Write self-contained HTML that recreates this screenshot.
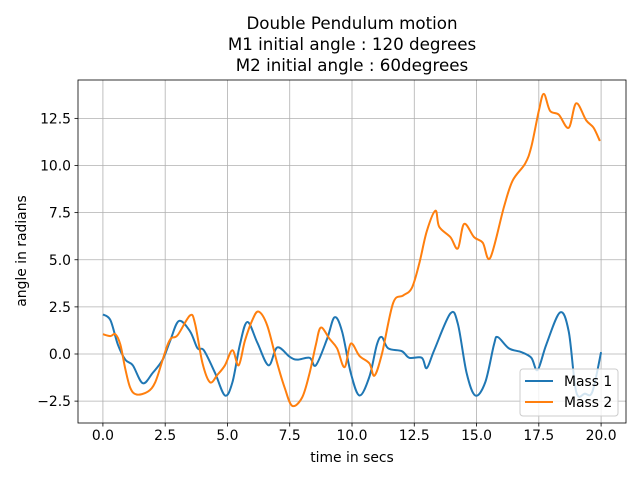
<!DOCTYPE html>
<html><head><meta charset="utf-8"><style>
body{margin:0;background:#fff;font-family:"Liberation Sans","DejaVu Sans",sans-serif;}
svg text{font-family:"DejaVu Sans","Liberation Sans",sans-serif;}
</style></head><body>
<svg id="c" width="640" height="480" xmlns="http://www.w3.org/2000/svg"></svg>
<script>
const xTicks=[0,2.5,5,7.5,10,12.5,15,17.5,20];
const xTickLabels=["0.0","2.5","5.0","7.5","10.0","12.5","15.0","17.5","20.0"];
const yTicks=[-2.5,0,2.5,5,7.5,10,12.5];
const yTickLabels=["−2.5","0.0","2.5","5.0","7.5","10.0","12.5"];
const m1t=[0,0.3,0.6,0.9,1.2,1.6,2.0,2.4,2.7,3.05,3.5,3.8,4.05,4.5,4.9,5.2,5.5,5.8,6.2,6.65,7.0,7.5,7.8,8.3,8.55,9.0,9.3,9.6,9.95,10.3,10.7,11.0,11.2,11.45,12.0,12.3,12.8,13.0,13.3,13.95,14.25,14.6,14.95,15.35,15.7,15.85,16.3,16.8,17.2,17.45,17.8,18.35,18.7,19.0,19.35,19.65,20.0];
const m1v=[2.1,1.8,0.5,-0.3,-0.6,-1.55,-1.0,-0.3,0.7,1.75,1.2,0.3,0.2,-1.0,-2.2,-1.5,0.5,1.7,0.6,-0.6,0.35,-0.15,-0.3,-0.2,-0.6,0.8,1.95,1.2,-1.0,-2.2,-1.2,0.5,0.9,0.3,0.15,-0.2,-0.2,-0.75,0.2,2.15,1.6,-1.0,-2.2,-1.5,0.5,0.9,0.3,0.1,-0.2,-0.85,0.5,2.2,1.2,-2.0,-2.1,-2.0,0.1];
const m2t=[0,0.3,0.5,0.7,0.9,1.1,1.35,1.8,2.1,2.4,2.6,2.75,3.0,3.5,3.7,4.0,4.3,4.6,4.9,5.2,5.45,5.7,6.0,6.25,6.6,7.0,7.3,7.6,8.0,8.3,8.55,8.75,9.1,9.4,9.7,9.95,10.3,10.7,10.9,11.2,11.65,12.05,12.4,12.7,13.0,13.35,13.5,13.95,14.25,14.5,14.9,15.25,15.55,16.1,16.45,16.95,17.2,17.5,17.7,17.95,18.3,18.7,19.0,19.4,19.7,19.95];
const m2v=[1.05,0.95,1.05,0.5,-0.8,-1.8,-2.15,-2.0,-1.5,-0.3,0.5,0.85,1.0,2.05,1.6,-0.5,-1.5,-1.1,-0.6,0.2,-0.6,0.7,1.8,2.25,1.5,-0.5,-1.8,-2.75,-2.3,-1.0,0.5,1.4,0.8,0.3,-0.7,0.55,-0.1,-0.5,-1.15,0.0,2.7,3.1,3.5,4.8,6.5,7.6,6.75,6.2,5.6,6.9,6.2,5.9,5.1,7.8,9.2,10.1,11.0,12.9,13.8,12.9,12.7,12.0,13.3,12.4,12.0,11.3];
const NS="http://www.w3.org/2000/svg";
const svg=document.getElementById('c');
const L=78,R=626,T=80,B=423;
const X=t=>L+(t+1)/22*(R-L);
const Y=v=>354-v*18.85;
function el(tag,a,p){const e=document.createElementNS(NS,tag);for(const k in a)e.setAttribute(k,a[k]);(p||svg).appendChild(e);return e;}
function txt(s,a){const e=el('text',a);e.textContent=s;return e;}
// grid
xTicks.forEach((t,i)=>{
 const g=el('line',{x1:X(t),x2:X(t),y1:T,y2:B,stroke:'#b0b0b0','stroke-width':0.8});
 
 
 el('line',{x1:X(t),x2:X(t),y1:B,y2:B+3.5,stroke:'#000','stroke-width':0.8});
 const l=txt(xTickLabels[i],{x:X(t),y:B+17,'text-anchor':'middle','font-size':'13.9px'});
 
 
});
yTicks.forEach((v,i)=>{
 const g=el('line',{x1:L,x2:R,y1:Y(v),y2:Y(v),stroke:'#b0b0b0','stroke-width':0.8});
 
 
 el('line',{x1:L-3.5,x2:L,y1:Y(v),y2:Y(v),stroke:'#000','stroke-width':0.8});
 const l=txt(yTickLabels[i],{x:L-7,y:Y(v)+5,'text-anchor':'end','font-size':'13.9px'});
 
 
});
function pathFor(ts,vs){
 const p=ts.map((t,i)=>[X(t),Y(vs[i])]);
 let d='M'+p[0][0]+','+p[0][1];
 for(let i=0;i<p.length-1;i++){
  const p0=p[Math.max(0,i-1)],p1=p[i],p2=p[i+1],p3=p[Math.min(p.length-1,i+2)];
  const c1=[p1[0]+(p2[0]-p0[0])/6,p1[1]+(p2[1]-p0[1])/6];
  const c2=[p2[0]-(p3[0]-p1[0])/6,p2[1]-(p3[1]-p1[1])/6];
  d+=`C${c1[0]},${c1[1]} ${c2[0]},${c2[1]} ${p2[0]},${p2[1]}`;
 }
 return d;
}
const s1=el('path',{d:pathFor(m1t,m1v),fill:'none',stroke:'#1f77b4','stroke-width':2,'stroke-linejoin':'round'});


const s2=el('path',{d:pathFor(m2t,m2v),fill:'none',stroke:'#ff7f0e','stroke-width':2,'stroke-linejoin':'round'});


const fr=el('rect',{x:L,y:T,width:R-L,height:B-T,fill:'none',stroke:'#000','stroke-width':0.8});


// titles
["Double Pendulum motion","M1 initial angle : 120 degrees"," M2 initial angle : 60degrees"].forEach((s,i)=>{
 const t=txt(s,{x:352,y:29+i*21,'text-anchor':'middle','font-size':'16.7px'});
 
 
});
const xl=txt('time in secs',{x:352,y:462,'text-anchor':'middle','font-size':'13.9px'});


const yl=txt('angle in radians',{x:0,y:0,'text-anchor':'middle','font-size':'13.9px',transform:'translate(26,251) rotate(-90)'});


// legend
const lg=el('g',{});


el('rect',{x:520,y:369,width:98,height:47,rx:3,fill:'#fff','fill-opacity':0.8,stroke:'#ccc','stroke-width':1},lg);
[['Mass 1','#1f77b4'],['Mass 2','#ff7f0e']].forEach((e,i)=>{
 const g=el('g',{},lg);
 
 
 el('line',{x1:525,x2:553,y1:381+i*21,y2:381+i*21,stroke:e[1],'stroke-width':2},g);
 const t=el('text',{x:564,y:386+i*21,'font-size':'13.9px'},g);t.textContent=e[0];
});
</script>
</body></html>
